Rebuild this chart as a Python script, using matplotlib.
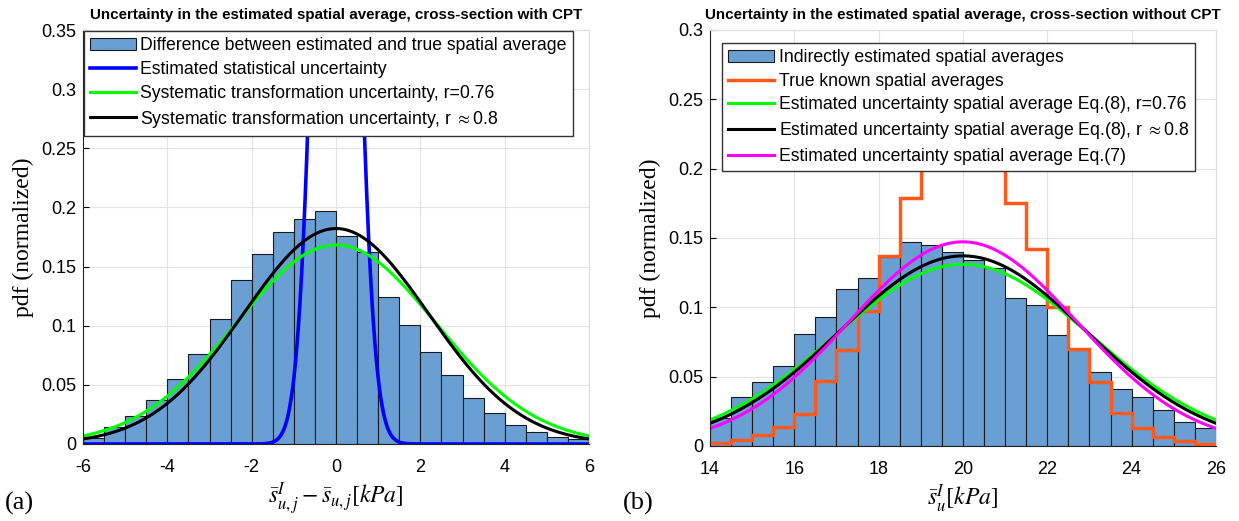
import numpy as np
import matplotlib
matplotlib.use("Agg")
import matplotlib.pyplot as plt

plt.rcParams['font.family'] = ['Liberation Sans', 'DejaVu Sans']
plt.rcParams['mathtext.fontset'] = 'stix'
plt.rcParams['axes.unicode_minus'] = False

# (a) difference histogram, bins of 0.5 from -6 to 6
edges_a = np.arange(-6, 6.01, 0.5)
hist_a = [0.005, 0.014, 0.024, 0.037, 0.055, 0.076, 0.106, 0.139, 0.161, 0.179,
          0.190, 0.197, 0.176, 0.162, 0.124, 0.101, 0.078, 0.058, 0.039, 0.026,
          0.016, 0.010, 0.0055, 0.004]
# normal curves (mean, sigma)
stat_a = (0.0, 0.42)
sys076_a = (0.0, 2.37)
sys08_a = (0.0, 2.19)

# (b) indirectly estimated / true known, bins of 0.5 from 14 to 26
edges_b = np.arange(14, 26.01, 0.5)
hist_b = [0.020, 0.035, 0.046, 0.058, 0.081, 0.093, 0.113, 0.121, 0.136, 0.147,
          0.145, 0.140, 0.134, 0.128, 0.107, 0.102, 0.080, 0.069, 0.053, 0.041,
          0.035, 0.026, 0.017, 0.013]
true_b = [0.002, 0.004, 0.008, 0.014, 0.023, 0.047, 0.069, 0.097, 0.137, 0.179,
          0.22, 0.25, 0.26, 0.23, 0.175, 0.142, 0.100, 0.070, 0.046, 0.024,
          0.013, 0.0065, 0.0033, 0.0012]
eq8_076_b = (20.0, 3.045)
eq8_08_b = (20.0, 2.91)
eq7_b = (20.0, 2.71)

bar_col = '#6a9fd4'
orange = '#ff5a1a'


def npdf(x, p):
    m, s = p
    return np.exp(-(x - m) ** 2 / (2 * s ** 2)) / (s * np.sqrt(2 * np.pi))


def style(ax, yticks, ylabs, xticks):
    ax.set_yticks(yticks)
    ax.set_yticklabels(ylabs)
    ax.set_xticks(xticks)
    ax.tick_params(direction='in', labelsize=13, length=4)
    ax.tick_params(axis='x', pad=11)
    ax.tick_params(axis='y', pad=5)
    ax.grid(True, color='#e3e3e3', lw=0.8)
    ax.set_axisbelow(True)
    for s in ['top', 'right']:
        ax.spines[s].set_color('#dddddd')
    for s in ['left', 'bottom']:
        ax.spines[s].set_color('#222222')
    ax.set_ylabel('pdf (normalized)', family='Liberation Serif', fontsize=17, labelpad=5)


def legend(ax, handles, anchor):
    lg = ax.legend(handles=handles, loc='upper left', bbox_to_anchor=anchor,
                   borderaxespad=0, fontsize=12.7, frameon=True, fancybox=False,
                   framealpha=1, handlelength=2.6, handletextpad=0.25,
                   borderpad=0.35, labelspacing=0.38)
    lg.get_frame().set_edgecolor('#333333')
    lg.get_frame().set_linewidth(1.0)
    return lg


fig = plt.figure(figsize=(12.39, 5.21), dpi=100)

# ---- (a)
ax1 = fig.add_axes([0.0670, 0.1478, 0.4084, 0.7946])
b1 = ax1.bar(edges_a[:-1], hist_a, width=0.5, align='edge', color=bar_col,
             edgecolor='#1a1a1a', lw=0.8,
             label='Difference between estimated and true spatial average')
xa = np.linspace(-6, 6, 1200)
l1, = ax1.plot(xa, npdf(xa, stat_a), color='#0000ff', lw=2.6,
               label='Estimated statistical uncertainty')
l2, = ax1.plot(xa, npdf(xa, sys076_a), color='#00ff00', lw=2.2,
               label='Systematic transformation uncertainty, r=0.76')
l3, = ax1.plot(xa, npdf(xa, sys08_a), color='black', lw=2.2,
               label=r'Systematic transformation uncertainty, r $\approx$0.8')
ax1.set_xlim(-6, 6)
ax1.set_ylim(0, 0.35)
style(ax1, np.arange(0, 0.351, 0.05), ['0', '0.05', '0.1', '0.15', '0.2', '0.25', '0.3', '0.35'],
      np.arange(-6, 7, 2))
ax1.set_xlabel(r'$\bar{s}^{I}_{u,j} - \bar{s}_{u,j}[kPa]$', fontsize=17, labelpad=3)
ax1.set_title('Uncertainty in the estimated spatial average, cross-section with CPT',
              fontsize=10.9, fontweight='bold', pad=8)
legend(ax1, [b1, l1, l2, l3], (0.002, 0.997))

# ---- (b)
ax2 = fig.add_axes([0.5730, 0.1440, 0.4084, 0.7985])
b2 = ax2.bar(edges_b[:-1], hist_b, width=0.5, align='edge', color=bar_col,
             edgecolor='#1a1a1a', lw=0.8, label='Indirectly estimated spatial averages')
s2 = ax2.stairs(true_b, edges_b, color=orange, lw=2.5, baseline=0,
                label='True known spatial averages')
xb = np.linspace(14, 26, 1200)
m1, = ax2.plot(xb, npdf(xb, eq8_076_b), color='#00ff00', lw=2.2,
               label='Estimated uncertainty spatial average Eq.(8), r=0.76')
m2, = ax2.plot(xb, npdf(xb, eq8_08_b), color='black', lw=2.2,
               label=r'Estimated uncertainty spatial average Eq.(8), r $\approx$0.8')
m3, = ax2.plot(xb, npdf(xb, eq7_b), color='#ff00ff', lw=2.2,
               label='Estimated uncertainty spatial average Eq.(7)')
ax2.set_xlim(14, 26)
ax2.set_ylim(0, 0.3)
style(ax2, np.arange(0, 0.301, 0.05), ['0', '0.05', '0.1', '0.15', '0.2', '0.25', '0.3'],
      np.arange(14, 27, 2))
ax2.set_xlabel(r'$\bar{s}^{I}_{u}[kPa]$', fontsize=17, labelpad=3)
ax2.set_title('Uncertainty in the estimated spatial average, cross-section without CPT',
              fontsize=10.9, fontweight='bold', pad=8)
legend(ax2, [b2, s2, m1, m2, m3], (0.024, 0.969))

fig.text(0.004, 0.022, '(a)', family='Liberation Serif', fontsize=19)
fig.text(0.503, 0.022, '(b)', family='Liberation Serif', fontsize=19)

fig.savefig('out.png', dpi=100)
